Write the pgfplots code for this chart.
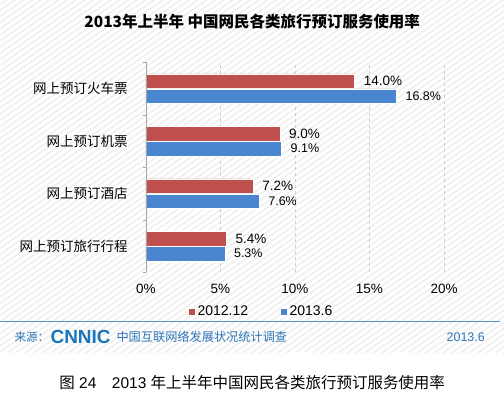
\documentclass[border=0pt]{standalone}
\usepackage{pgfplots}
\pgfplotsset{compat=1.18}
\usepackage{fontspec}
\setmainfont{Liberation Sans}
\newfontfamily\cjk{Noto Sans CJK SC}
\usetikzlibrary{patterns.meta}
\definecolor{barred}{RGB}{192,80,77}
\definecolor{barblue}{RGB}{74,134,208}
\definecolor{srcblue}{RGB}{46,117,182}
\definecolor{logoblue}{RGB}{26,117,187}
\begin{document}
\begin{tikzpicture}[x=1pt,y=1pt]
\fill[white] (0,0) rectangle (504,395);
\fill[pattern={Lines[angle=35,distance=5pt,line width=1.6pt]},pattern color=black!6] (0,42) rectangle (504,395);
\node[font=\cjk\bfseries\fontsize{15.5}{19}\selectfont] at (252,373) {2013年上半年 中国网民各类旅行预订服务使用率};
\begin{axis}[
 at={(145.5pt,122.5pt)}, anchor=south west,
 scale only axis, width=298.5pt, height=210pt,
 xmin=0, xmax=20, ymin=-0.5, ymax=3.5,
 xbar, bar width=14.5pt,
 axis line style={draw=none},
 xtick={0,5,10,15,20}, xticklabels={0\%,5\%,10\%,15\%,20\%},
 xmajorgrids, grid style={dashed, gray!40, line width=0.5pt},
 major tick length=0pt,
 ytick={0,1,2,3}, yticklabels={网上预订旅行行程,网上预订酒店,网上预订机票,网上预订火车票},
 yticklabel style={font=\cjk\fontsize{13.5}{16}\selectfont, anchor=east, inner sep=0pt, xshift=-18pt},
 xticklabel style={font=\fontsize{13.5}{16}\selectfont, anchor=north, inner sep=0pt, yshift=-12pt},
 minor ytick={-0.5,0.5,1.5,2.5,3.5}, minor tick length=3pt, ytick pos=left, xtick pos=bottom,
 minor tick style={gray!70},
 point meta=explicit symbolic,
 nodes near coords, every node near coord/.append style={anchor=west, inner sep=0pt, xshift=9pt},
 legend style={at={(0.387,-0.188)}, anchor=center, draw=none, fill=none, legend columns=2, font=\fontsize{14}{16}\selectfont, /tikz/every even column/.append style={column sep=30pt}},
 legend image code/.code={\fill[#1] (0pt,-3.5pt) rectangle (7pt,3.5pt);},
 clip=false,
]
\addplot[fill=barred, draw=white, line width=0.5pt, bar shift=7.5pt, every node near coord/.append style={font=\fontsize{13.5}{16}\selectfont}] coordinates {(5.4,0)[5.4\%] (7.2,1)[7.2\%] (9.0,2)[9.0\%] (14.0,3)[14.0\%]};
\addplot[fill=barblue, draw=white, line width=0.5pt, bar shift=-7.5pt, every node near coord/.append style={font=\fontsize{12.5}{15}\selectfont}] coordinates {(5.3,0)[5.3\%] (7.6,1)[7.6\%] (9.1,2)[9.1\%] (16.8,3)[16.8\%]};
\legend{2012.12,2013.6}
\draw[gray!70] (axis cs:0,-0.5) -- (axis cs:0,3.5);
\end{axis}
\draw[srcblue!80, line width=0.8pt] (0,73) -- (500,73);
\node[anchor=west, text=srcblue, font=\cjk\fontsize{11.5}{14}\selectfont, inner sep=0pt] at (14,58) {来源：};
\node[anchor=west, text=logoblue, font=\bfseries\fontsize{19}{20}\selectfont, inner sep=0pt] at (50,58) {CNNIC};
\node[anchor=west, text=srcblue, font=\cjk\fontsize{12.2}{14}\selectfont, inner sep=0pt] at (116,58) {中国互联网络发展状况统计调查};
\node[anchor=east, text=srcblue, font=\fontsize{12.5}{14}\selectfont, inner sep=0pt] at (485,58) {2013.6};
\node[font=\fontsize{15.5}{17}\selectfont] at (252,12) {{\cjk 图}\ 24\quad 2013 {\cjk 年上半年中国网民各类旅行预订服务使用率}};
\end{tikzpicture}
\end{document}
